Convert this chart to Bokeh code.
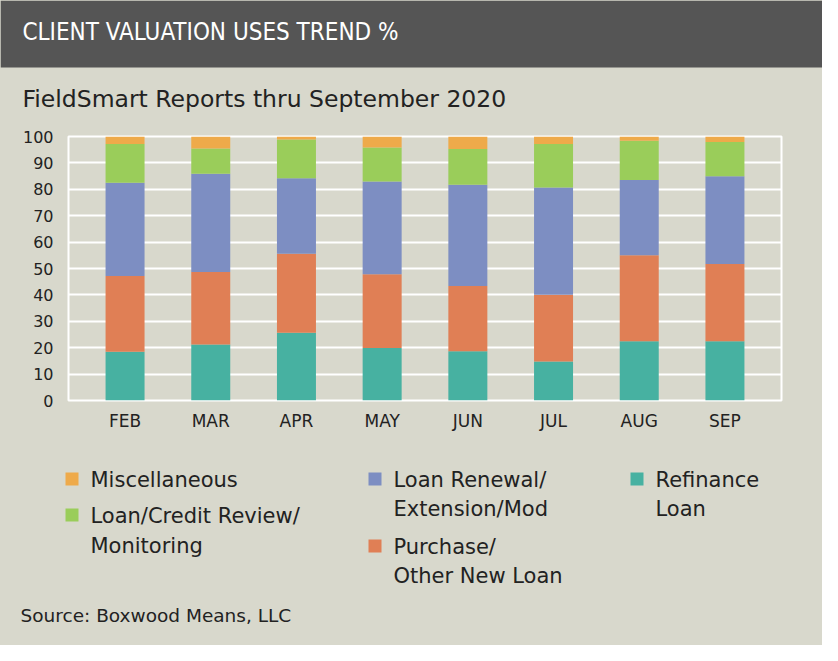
from bokeh.plotting import figure
from bokeh.models import FactorRange, Range1d, Label, BoxAnnotation, ColumnDataSource, FixedTicker
from bokeh.layouts import column
from bokeh.embed import file_html
from bokeh.resources import INLINE

months = ["FEB", "MAR", "APR", "MAY", "JUN", "JUL", "AUG", "SEP"]
refinance = [18.5, 21.2, 25.7, 19.9, 18.7, 14.8, 22.4, 22.4]
purchase = [28.7, 27.5, 29.9, 27.9, 24.7, 25.3, 32.6, 29.3]
renewal = [35.3, 37.2, 28.6, 35.2, 38.3, 40.6, 28.5, 33.2]
credit = [14.7, 9.6, 14.7, 12.8, 13.6, 16.5, 14.9, 13.0]
misc = [2.8, 4.5, 1.1, 4.2, 4.7, 2.8, 1.6, 2.1]
y_ticks = [0, 10, 20, 30, 40, 50, 60, 70, 80, 90, 100]

series = ["refinance", "purchase", "renewal", "credit", "misc"]
colors = ["#47b1a1", "#e07f55", "#7d8ec2", "#9acd5a", "#eeaa4a"]

BG = "#d8d8cc"
TXT = "#222222"
FONT = "DejaVu Sans"
W = 822


def prep(f):
    if "frame_align" in f.properties():
        f.frame_align = False
    f.styles = {"background-color": BG}


def blank(h):
    f = figure(width=W, height=h, x_range=Range1d(0, W), y_range=Range1d(h, 0),
               output_backend="svg", toolbar_location=None,
               min_border=0, min_border_left=0, min_border_right=0,
               min_border_top=0, min_border_bottom=0)
    f.axis.visible = False
    f.grid.visible = False
    f.outline_line_color = None
    f.background_fill_color = BG
    f.border_fill_color = BG
    prep(f)
    return f


def lab(f, text, x, y, size, color=TXT, font=FONT):
    f.add_layout(Label(x=x, y=y, text=text, text_font=font, text_font_size=size,
                       text_color=color, text_baseline="middle", text_align="left"))


# ---- header ----
H1 = 120
head = blank(H1)
head.add_layout(BoxAnnotation(left=0, right=W, top=0, bottom=67,
                              fill_color="#555555", fill_alpha=1, line_color=None))
lab(head, "CLIENT VALUATION USES TREND %", 22, 31, "24px", color="white",
    font="DejaVu Sans Condensed")
lab(head, "FieldSmart Reports thru September 2020", 22, 98, "23.5px")

# ---- chart ----
src = ColumnDataSource(dict(months=months, refinance=refinance, purchase=purchase,
                            renewal=renewal, credit=credit, misc=misc))

TOP = 136 - H1
p = figure(width=W, height=TOP + 264 + 40, frame_width=713, frame_height=264,
           x_range=FactorRange(factors=months, range_padding=0.16, range_padding_units="absolute"),
           y_range=(0, 100), output_backend="svg", toolbar_location=None,
           min_border_left=68, min_border_right=41, min_border_top=TOP, min_border_bottom=40)
prep(p)

p.background_fill_color = BG
p.border_fill_color = BG
p.outline_line_color = "white"
p.outline_line_width = 2

p.vbar_stack(series, x="months", width=0.455, color=colors, line_color=None, source=src)

p.xgrid.grid_line_color = None
p.ygrid.grid_line_color = "white"
p.ygrid.grid_line_width = 2
p.yaxis.ticker = FixedTicker(ticks=y_ticks)

for ax in (p.xaxis[0], p.yaxis[0]):
    ax.axis_line_color = None
    ax.major_tick_line_color = None
    ax.minor_tick_line_color = None
    ax.major_tick_out = 0
    ax.major_label_text_font = FONT
    ax.major_label_text_color = TXT
p.yaxis.major_label_text_font_size = "16px"
p.yaxis.major_label_standoff = 15
p.xaxis.major_label_text_font_size = "17px"
p.xaxis.major_label_standoff = 10

# ---- legend + source ----
Y0 = 136 + 264 + 40
H3 = 645 - Y0
leg = blank(H3)
legend_cols = [
    (65, [("Miscellaneous", 479, 4), ("Loan/Credit Review/", 515, 3), ("Monitoring", 545, None)]),
    (368, [("Loan Renewal/", 479, 2), ("Extension/Mod", 508, None), ("Purchase/", 546, 1), ("Other New Loan", 575, None)]),
    (630, [("Refinance", 479, 0), ("Loan", 508, None)]),
]
for x0, lines in legend_cols:
    for text, y, ci in lines:
        yy = y - Y0
        if ci is not None:
            leg.add_layout(BoxAnnotation(left=x0, right=x0 + 13, top=yy - 7, bottom=yy + 6,
                                         fill_color=colors[ci], fill_alpha=1, line_color=None))
        lab(leg, text, x0 + 25, yy, "21px")

lab(leg, "Source: Boxwood Means, LLC", 20, 615 - Y0, "18.5px")

layout = column(head, p, leg, spacing=0, styles={"background-color": BG})
open("out.html", "w").write(file_html(layout, INLINE))
